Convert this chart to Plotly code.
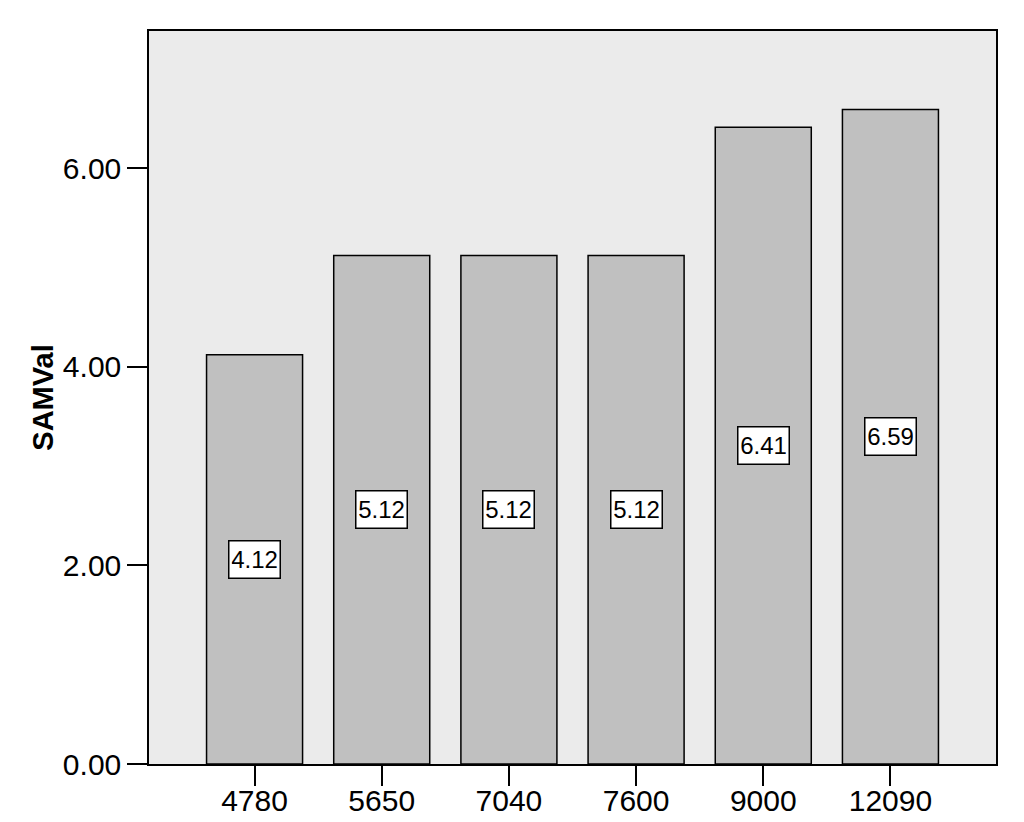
import plotly.graph_objects as go

# Mean SAMVal per group
categories = ['4780', '5650', '7040', '7600', '9000', '12090']
samval = [4.12, 5.12, 5.12, 5.12, 6.41, 6.59]
y_ticks = [0, 2, 4, 6]

FONT = 'Liberation Sans, Arial, sans-serif'

fig = go.Figure()
fig.add_trace(go.Bar(
    x=categories,
    y=samval,
    marker=dict(color='rgb(192,192,192)', line=dict(color='black', width=1.5)),
    hoverinfo='x+y',
))

# value labels in white boxes at half the bar height
# (category index used for x, numeric-looking names are read as positions)
for i, val in enumerate(samval):
    fig.add_annotation(
        x=i, y=val / 2, text=f'{val:.2f}',
        showarrow=False,
        font=dict(family=FONT, size=24, color='black'),
        width=46, height=32,
        bgcolor='white', bordercolor='black', borderwidth=1.5, borderpad=2,
    )

# page body has an 8px margin, so the figure is a bit smaller than the window
fig.update_layout(
    width=1008, height=806,
    margin=dict(l=141, r=20, t=23, b=50),
    paper_bgcolor='white',
    plot_bgcolor='rgb(235,235,235)',
    bargap=0.245,
    showlegend=False,
    font=dict(family=FONT, color='black'),
)
fig.update_xaxes(
    type='category', range=[-0.83, 5.83], automargin=False,
    showline=True, linecolor='black', linewidth=1.5, mirror=True,
    ticks='outside', ticklen=20, tickwidth=1.5, tickcolor='black',
    tickfont=dict(size=30), ticklabelstandoff=-11, showgrid=False,
)
fig.update_yaxes(
    range=[0, 7.38], tickvals=y_ticks, tickformat='.2f', automargin=False,
    showline=True, linecolor='black', linewidth=1.5, mirror=True,
    ticks='outside', ticklen=20, tickwidth=1.5, tickcolor='black',
    tickfont=dict(size=30), showgrid=False, zeroline=False,
    title=dict(text='<b>SAMVal</b>', font=dict(size=29), standoff=1),
)

fig.write_html('out.html')
